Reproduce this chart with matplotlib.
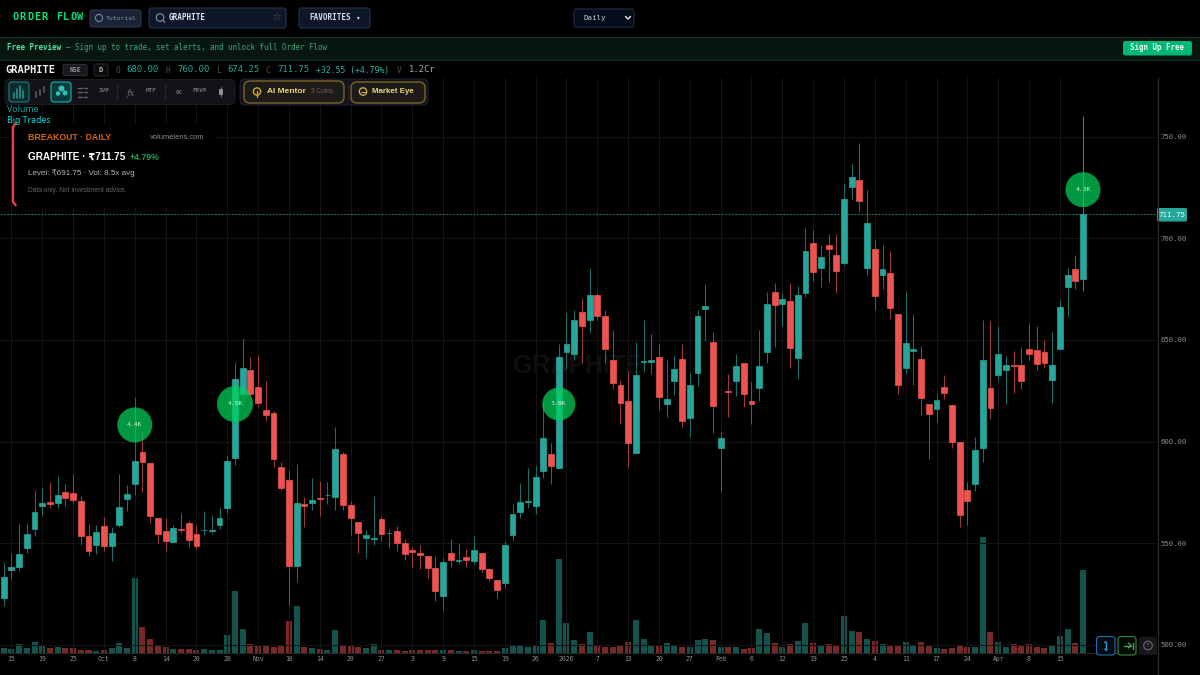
import matplotlib
matplotlib.use('Agg')
import matplotlib.pyplot as plt
from matplotlib.patches import FancyBboxPatch, Circle, Rectangle

# daily candles, oldest first
opens = [523.3, 537.1, 538.5, 547.7, 557.1, 568.5, 570.2, 569.7, 575.1, 574.9, 570.8, 553.5, 549.2, 558.5, 548.9,
         559.2, 572.0, 579.2, 594.9, 589.5, 562.5, 556.1, 550.8, 557.1, 559.8, 554.4, 556.4, 556.1, 559.2, 567.2,
         592.1, 623.5, 635.1, 626.7, 615.7, 614.1, 587.7, 581.2, 538.7, 569.2, 570.0, 572.3, 573.6, 572.8, 594.1,
         568.7, 560.5, 552.5, 552.1, 562.1, 554.9, 556.1, 550.0, 546.5, 545.4, 543.6, 538.0, 524.3, 545.2, 541.3,
         543.1, 541.3, 545.2, 537.2, 531.8, 530.3, 554.2, 565.3, 570.5, 568.3, 585.6, 593.9, 587.2, 644.1, 642.9,
         663.8, 659.9, 672.3, 661.7, 640.0, 627.9, 619.9, 594.2, 639.0, 639.3, 641.8, 618.7, 630.0, 640.8, 611.6,
         633.9, 665.0, 648.8, 597.0, 625.1, 630.0, 638.8, 619.9, 626.3, 644.1, 673.8, 667.8, 668.9, 641.1, 673.0,
         697.9, 685.2, 696.9, 691.9, 688.0, 725.2, 728.8, 685.2, 694.9, 681.8, 682.9, 662.9, 636.1, 644.6, 640.7,
         618.4, 616.1, 626.7, 618.2, 600.0, 576.0, 579.1, 597.1, 626.2, 632.7, 635.2, 637.7, 637.5, 645.5, 645.0,
         643.9, 630.1, 645.7, 676.2, 684.7, 680.0]
highs = [541.0, 545.1, 559.5, 560.0, 576.2, 577.7, 580.0, 583.3, 579.0, 584.1, 573.1, 559.7, 559.0, 563.0, 558.2,
         584.1, 578.7, 622.1, 604.9, 589.5, 562.5, 562.5, 559.0, 564.9, 561.0, 558.5, 565.7, 563.9, 567.7, 593.1,
         639.0, 651.0, 641.8, 642.6, 629.8, 614.9, 590.2, 586.1, 588.9, 572.8, 582.1, 580.8, 580.3, 607.4, 594.8,
         570.7, 560.5, 556.7, 573.3, 563.5, 557.1, 558.5, 552.2, 548.2, 549.3, 543.6, 543.7, 542.6, 551.9, 550.1,
         547.3, 553.7, 545.2, 537.9, 531.8, 551.1, 569.1, 579.7, 587.0, 587.9, 619.2, 599.5, 647.8, 663.0, 664.8,
         670.4, 684.9, 673.2, 664.7, 654.9, 630.3, 634.6, 649.0, 659.6, 652.9, 647.8, 640.0, 642.0, 647.8, 633.6,
         664.8, 677.7, 653.9, 605.0, 633.3, 643.1, 638.8, 629.4, 654.7, 673.7, 678.2, 673.2, 678.2, 676.4, 705.0,
         704.0, 696.7, 702.0, 702.0, 727.2, 736.4, 746.8, 723.8, 699.2, 696.9, 693.5, 662.9, 673.7, 662.7, 646.9,
         618.4, 624.1, 632.9, 618.5, 600.0, 580.1, 602.3, 659.8, 659.5, 657.0, 642.0, 644.8, 646.6, 657.9, 657.0,
         649.9, 653.8, 669.6, 685.4, 691.7, 760.0]
lows = [519.4, 532.1, 537.1, 545.1, 553.8, 564.1, 567.2, 567.4, 568.2, 570.0, 549.4, 543.9, 544.9, 546.2, 541.5,
        558.2, 565.9, 573.9, 575.4, 560.2, 550.3, 546.4, 550.8, 555.1, 548.4, 547.2, 553.9, 555.1, 556.9, 564.8,
        588.5, 621.0, 622.0, 616.9, 610.2, 587.7, 576.2, 519.7, 531.2, 558.0, 566.4, 563.5, 569.4, 566.6, 566.6,
        554.3, 545.4, 542.6, 549.4, 551.3, 547.9, 546.2, 541.8, 538.2, 537.5, 533.0, 521.5, 516.6, 538.2, 539.7,
        538.2, 540.0, 535.9, 531.3, 523.2, 528.1, 551.3, 562.5, 567.3, 564.2, 582.3, 579.4, 587.2, 635.6, 640.0,
        638.8, 653.2, 659.9, 638.8, 625.8, 608.6, 587.7, 594.2, 634.3, 633.3, 615.6, 612.0, 623.0, 607.3, 602.2,
        627.4, 649.3, 604.2, 575.1, 612.0, 622.3, 617.1, 608.6, 620.1, 638.5, 646.4, 656.7, 636.2, 631.0, 671.0,
        679.0, 676.2, 678.5, 673.1, 687.0, 719.4, 713.4, 681.8, 664.6, 674.9, 660.2, 623.5, 633.6, 628.0, 613.1,
        591.6, 609.4, 621.0, 597.0, 558.0, 559.2, 575.7, 589.9, 611.1, 629.7, 618.4, 623.9, 625.8, 640.0, 635.2,
        636.1, 618.7, 645.7, 661.1, 674.9, 674.25]
closes = [533.5, 538.4, 544.8, 554.6, 565.6, 570.0, 569.5, 573.6, 572.3, 571.2, 553.8, 546.1, 555.4, 548.9, 555.3,
          567.7, 574.3, 590.5, 590.2, 563.5, 554.4, 551.3, 557.4, 556.4, 551.5, 548.5, 556.7, 556.4, 562.6, 590.3,
          630.7, 636.1, 623.5, 618.9, 613.0, 591.3, 577.4, 538.7, 570.0, 568.5, 571.5, 571.6, 573.9, 596.6, 568.9,
          562.6, 555.3, 553.9, 552.5, 554.4, 555.3, 550.0, 544.9, 545.5, 544.4, 537.9, 526.6, 541.0, 541.6, 541.8,
          541.8, 546.7, 537.5, 533.1, 526.8, 549.3, 564.3, 570.4, 571.0, 582.8, 601.8, 587.9, 641.6, 648.0, 659.6,
          656.8, 672.3, 661.9, 645.5, 628.6, 619.1, 599.5, 632.8, 639.5, 640.0, 622.0, 620.9, 635.9, 609.9, 627.9,
          661.6, 666.5, 617.4, 601.6, 624.5, 637.2, 623.2, 618.7, 637.2, 667.9, 667.0, 669.9, 645.9, 671.9, 693.5,
          683.2, 690.9, 694.6, 683.8, 719.2, 730.0, 718.3, 707.3, 671.5, 684.7, 665.9, 627.8, 648.7, 645.7, 621.6,
          613.6, 620.3, 623.9, 600.0, 563.8, 570.9, 595.9, 640.2, 616.6, 643.2, 637.7, 637.2, 629.9, 643.0, 638.4,
          638.8, 637.5, 666.4, 681.8, 679.2, 711.75]
# volume in lakh shares
volumes = [7.2, 5.8, 12.5, 6.7, 15.9, 11.1, 6.3, 8.2, 6.7, 6.7, 4.3, 3.4, 2.9, 3.4, 6.3, 14.5, 6.7, 107.5, 37.1, 19.8,
           9.2, 7.7, 5.3, 5.8, 5.8, 3.4, 4.8, 3.4, 3.9, 25.5, 89.7, 34.7, 13.0, 10.1, 11.1, 8.7, 9.2, 45.8, 67.5, 8.7,
           6.7, 4.8, 3.9, 32.8, 9.6, 9.6, 7.7, 7.2, 12.0, 3.4, 3.9, 3.9, 2.4, 3.9, 3.4, 3.9, 4.3, 3.9, 3.9, 2.9,
           2.9, 3.9, 2.4, 1.9, 2.4, 6.7, 11.1, 9.2, 8.7, 9.6, 46.8, 14.0, 135.4, 42.4, 17.8, 12.5, 30.4, 10.6, 8.2, 7.7,
           9.2, 14.9, 47.7, 19.3, 10.6, 11.1, 14.0, 10.1, 8.2, 8.2, 17.8, 19.3, 18.3, 8.7, 8.2, 7.7, 5.8, 7.2, 34.7, 28.4,
           13.5, 8.7, 12.0, 16.9, 42.8, 14.1, 11.0, 12.0, 11.5, 53.7, 31.3, 29.7, 19.8, 16.7, 13.0, 9.9, 11.5, 16.2, 11.0, 15.1,
           10.4, 6.8, 4.7, 6.3, 11.0, 8.3, 8.3, 166.9, 30.2, 15.6, 8.9, 12.5, 9.9, 13.0, 8.3, 6.8, 11.0, 23.5, 34.4, 14.6,
           120.0]

tick_labels = ['15', '19', '25', 'Oct', '8', '14', '20', '28', 'Nov', '10', '14', '20', '27', '3', '9', '15', '19',
               '26', '2026', '7', '13', '20', '27', 'Feb', '6', '12', '19', '25', '4', '11', '17', '24', 'Apr', '8', '15']
price_ticks = [500, 550, 600, 650, 700, 750]

# big trade bubbles
bubble_idx = [17, 30, 72, 140]
bubble_price = [608.2, 618.5, 618.5, 723.9]
bubble_text = ['4.4K', '4.5K', '3.8K', '4.3K']
bubble_px = [35, 36, 33, 35]

UP = '#26a69a'
DOWN = '#ef5350'
MONO = 'DejaVu Sans Mono'
SANS = ['Liberation Sans', 'DejaVu Sans']

fig = plt.figure(figsize=(12, 6.75), dpi=100, facecolor='black')


def px_axes(left, top, right, bottom):
    return fig.add_axes([left / 1200, 1 - bottom / 675, (right - left) / 1200, (bottom - top) / 675])


# price and volume share the same box
ax_vol = px_axes(0, 78, 1157, 652.7)
ax = px_axes(0, 78, 1157, 652.7)
ax_vol.set_zorder(1)
ax.set_zorder(2)
ax.patch.set_visible(False)
ax_vol.set_facecolor('black')

idx = list(range(len(closes)))
colors = [UP if c >= o else DOWN for o, c in zip(opens, closes)]
wick_colors = ['#17716a' if c >= o else '#a03a38' for o, c in zip(opens, closes)]
wick_colors[-1] = '#1f8f85'

ax_vol.bar(idx, volumes, width=0.78, color=colors, alpha=0.5, linewidth=0)
ax_vol.set_xlim(-0.48, 149.6)
ax_vol.set_ylim(0, 831.6)
ax_vol.axis('off')

ax.vlines(idx, lows, highs, colors=wick_colors, linewidth=0.75, zorder=3)
ax.bar(idx, [abs(c - o) for o, c in zip(opens, closes)], bottom=[min(o, c) for o, c in zip(opens, closes)],
       width=0.76, color=colors, edgecolor=colors, linewidth=0.5, zorder=4)

ax.set_xlim(-0.48, 149.6)
ax.set_ylim(496.2, 778.8)
ax.set_xticks(idx[1::4])
ax.set_xticklabels(tick_labels, family=MONO, fontsize=4.7, color='#8f8f8f')
ax.set_yticks(price_ticks)
ax.set_yticklabels([f'{p:.2f}' for p in price_ticks], family=MONO, fontsize=5.2, color='#8f8f8f')
ax.yaxis.tick_right()
ax.tick_params(axis='both', length=0)
ax.tick_params(axis='x', pad=2.2)
ax.tick_params(axis='y', pad=2.2)
ax.grid(True, color='#141416', linewidth=0.75)
ax.set_axisbelow(True)
for name, spine in ax.spines.items():
    spine.set_visible(name == 'bottom')
    spine.set_color('#2a2a2a')
    spine.set_linewidth(0.7)

ax.axhline(closes[-1], color=UP, linewidth=0.7, linestyle=(0, (2, 1.5)), alpha=0.75, zorder=2)

ax.scatter(bubble_idx, bubble_price, s=[(d * 0.72) ** 2 for d in bubble_px], color='#00d25b', alpha=0.72,
           linewidths=0, zorder=6)
for i, p, t in zip(bubble_idx, bubble_price, bubble_text):
    ax.text(i, p, t, ha='center', va='center', family=MONO, fontsize=4.6, color='#d8f5e2', zorder=7)

# screen furniture is placed in pixel space on top of the chart
ui = fig.add_axes([0, 0, 1, 1], zorder=3)
ui.set_xlim(0, 1200)
ui.set_ylim(675, 0)
ui.axis('off')

ax.text(513, 366, 'GRAPHITE', transform=ui.transData, family=SANS, weight='bold', fontsize=18, color='#0f0f10',
        ha='left', va='center', zorder=1)


def box(x0, y0, x1, y1, fc, ec='none', r=2.5, lw=0.8, z=2):
    ui.add_patch(FancyBboxPatch((x0 + r, y0 + r), x1 - x0 - 2 * r, y1 - y0 - 2 * r,
                                boxstyle=f'round,pad={r},rounding_size={r}', fc=fc, ec=ec, lw=lw, zorder=z))


def label(x, y, s, size, color, family=MONO, weight='normal', ha='left', **kw):
    ui.text(x, y, s, fontsize=size, color=color, family=family, weight=weight, ha=ha, va='center', zorder=5, **kw)


def line(xs, ys, color, lw=0.8, z=4):
    ui.plot(xs, ys, color=color, lw=lw, zorder=z, solid_capstyle='round')


# top bar, the logo has wide letter spacing
for n, ch in enumerate('ORDER FLOW'):
    label(12.5 + n * 7.2, 17.5, ch, 7.4, '#00e676', weight='bold')
box(90, 10, 141, 27, '#1a2436', '#2a3852')
ui.add_patch(Circle((99, 18), 3.6, fc='none', ec='#8595aa', lw=0.7, zorder=4))
label(106, 18, 'Tutorial', 4.6, '#8292a6')
box(149, 8, 286, 28, '#0e1728', '#25324a')
ui.add_patch(Circle((160, 17.5), 3.8, fc='none', ec='#8a97a8', lw=0.8, zorder=4))
line([163, 165], [20.5, 22.5], '#8a97a8')
label(169, 18, 'GRAPHITE', 5.5, '#e0e6ee', weight='bold')
label(276, 17, '☆', 8, '#3f4c60', family='DejaVu Sans', ha='center')
box(299, 8, 370, 28, '#0e1728', '#25324a')
label(309, 18, 'FAVORITES', 5.5, '#d5dce6', weight='bold')
label(358, 18, '▾', 4, '#d5dce6', family='DejaVu Sans', ha='center')
box(574, 9, 634, 27, '#070c1c', '#222d42')
label(584, 18, 'Daily', 5.4, '#c9ced6')
line([625.5, 628, 630.5], [16.5, 19, 16.5], '#d5dce6', lw=1.1)

# preview banner
ui.add_patch(Rectangle((0, 36.5), 1200, 23, fc='#07170f', ec='none', zorder=1))
line([0, 1200], [36.5, 36.5], '#1e2c3c', z=2)
line([0, 1200], [59.5, 59.5], '#10301f', z=2)
label(7, 48, 'Free Preview', 5.45, '#53e6a6', weight='bold')
label(66, 48, '— Sign up to trade, set alerts, and unlock full Order Flow', 5.45, '#3aa57c')
box(1123, 41, 1192, 55.5, '#00b874')
label(1157.5, 48, 'Sign Up Free', 5.45, '#eafff6', weight='bold', ha='center')

# symbol row
label(5, 70, 'GRAPHITE', 7.5, '#f0f0f0', weight='bold')
box(63, 64.5, 87, 75.5, '#17181c', '#2a2b30', r=1.5)
label(75, 70, 'NSE', 4.7, '#8e9198', weight='bold', ha='center')
box(94, 64, 108, 76, '#0b0b0d', '#25262a', r=2)
label(101, 70, 'D', 5, '#b8bbc2', weight='bold', ha='center')
for x, key, vx, val in [(115, 'O', 126, '680.00'), (165, 'H', 177, '760.00'),
                        (216, 'L', 227, '674.25'), (266, 'C', 277, '711.75')]:
    label(x, 70.5, key, 5.6, '#4c4f55')
    label(vx, 70, val, 6.4, '#26a69a')
label(316, 70, '+32.55 (+4.79%)', 5.85, '#26b6a6')
label(397, 70.5, 'V', 5.6, '#4c4f55')
label(409, 70, '1.2Cr', 6.4, '#a7a9ad')

# toolbar left
box(5, 79.5, 235, 104.5, '#121316', '#1b1c20', r=5)
box(9, 82, 29, 102, '#0b2b2c', '#17807f', r=3)
for bx, top in zip([14, 17, 20, 23], [93, 89, 86, 91]):
    line([bx, bx], [98, top], '#2a9d93', lw=1.1)
for bx, y0, y1 in [(36, 92, 97), (40, 90, 95), (44, 87, 92)]:
    line([bx, bx], [y0, y1], '#5a5d62', lw=1.2)
box(51, 82, 71, 102, '#0b3a3c', '#18b4b4', r=3)
for cx, cy, r in [(61.5, 88.5, 3), (58, 93.5, 2.3), (65, 93, 2.5)]:
    ui.add_patch(Circle((cx, cy), r, fc='#2fc0b2', ec='none', zorder=4))
for y in [87.5, 92, 96.5]:
    line([78, 81.5], [y, y], '#5f6267', lw=1)
    line([83.5, 87], [y, y], '#5f6267', lw=1)
label(104, 91, 'SVP', 4.3, '#6d7076', weight='bold', ha='center')
line([117, 117], [84, 100], '#26272c')
label(130.5, 93, 'fx', 6.5, '#6d7076', family='DejaVu Serif', style='italic', ha='center')
label(151, 91, 'MTF', 4.3, '#6d7076', weight='bold', ha='center')
line([165, 165], [84, 100], '#26272c')
label(179, 92.5, 'OC', 4.3, '#6d7076', weight='bold', ha='center')
label(200, 91, 'FRVP', 4.3, '#6d7076', weight='bold', ha='center')
line([221, 221], [87, 97], '#6d7076', lw=0.7)
box(219, 89, 223, 95, '#8a8d92', r=0.8, z=4)

# toolbar right
box(240, 79, 428, 105, '#14131d', '#1f1e2c', r=5)
box(244, 81, 344, 103, '#1c1b18', '#7d6526', r=6, lw=1)
ui.add_patch(Circle((257, 91.5), 3.6, fc='none', ec='#d9a62e', lw=1, zorder=4))
line([257, 257], [91, 97], '#d9a62e', lw=1)
label(267, 91.5, 'AI Mentor', 6.0, '#f1d67c', family=SANS, weight='bold')
label(311, 91.5, '3 Coins', 4.7, '#6f6850', family=SANS)
line([348, 348], [84, 100], '#24232e')
box(351, 82, 425, 103, '#1c1b18', '#7d6526', r=6, lw=1)
ui.add_patch(Circle((363, 91.5), 3.7, fc='none', ec='#d9b648', lw=0.9, zorder=4))
line([361, 365], [91.5, 91.5], '#d9b648', lw=0.7)
label(372, 91.5, 'Market Eye', 5.7, '#f1d67c', family=SANS, weight='bold')

# indicator legend
label(7, 109, 'Volume', 6.3, '#0f9c9c', family=['Noto Sans', 'DejaVu Sans'])
label(7, 120.5, 'Big Trades', 6.3, '#00e0e0', family=['Noto Sans', 'DejaVu Sans'], weight='bold')

# breakout card
ui.add_patch(Rectangle((12, 123.5), 203, 83, fc='black', ec='none', zorder=3))
ui.plot([15.5, 13, 13, 15.5], [123.5, 127, 202, 205], color='#e5413f', lw=1.7, zorder=4)
label(28, 137, 'BREAKOUT · DAILY', 6.3, '#d9660f', family=SANS, weight='bold')
label(150, 137.5, 'volumelens.com', 5.4, '#8a8a8a', family=SANS)
label(28, 157, 'GRAPHITE · ₹711.75', 7.2, '#ffffff', family=SANS, weight='bold')
label(130, 157.5, '+4.79%', 6.2, '#1fa550', family=SANS, weight='bold')
label(28, 173, 'Level: ₹691.75 · Vol: 8.5x avg', 5.8, '#b5b5b5', family=SANS)
label(28, 190.5, 'Data only. Not investment advice.', 4.8, '#666666', family=SANS)

# price axis edge and last price tag
line([1157.5, 1157.5], [78, 675], '#2e2e2e', lw=0.8)
box(1157, 208, 1187, 221.5, '#26a69a', r=1.5)
label(1172, 214.8, '711.75', 5.4, '#eafffb', ha='center')

# corner buttons
box(1096.5, 636.5, 1115, 655, '#070b10', '#1f6fb5', r=3)
line([1105.5, 1105.5], [642, 650], '#2f9be8', lw=1)
label(1105.5, 641.8, '▴', 3.5, '#2f9be8', family='DejaVu Sans', ha='center')
label(1105.5, 650, '▾', 3.5, '#2f9be8', family='DejaVu Sans', ha='center')
box(1118, 636.5, 1136, 655, '#070b07', '#2f8a3a', r=3)
line([1124, 1131], [645.5, 645.5], '#46a84f', lw=1)
line([1128.5, 1131, 1128.5], [643, 645.5, 648], '#46a84f', lw=1)
line([1132.5, 1132.5], [642.5, 648.5], '#46a84f', lw=1)
box(1139, 636.5, 1157, 655, '#17181a', r=3)
ui.add_patch(Circle((1148, 645.5), 4.3, fc='none', ec='#6b6d70', lw=0.8, zorder=4))
label(1148, 645.5, '?', 4.6, '#7b7d80', family=SANS, ha='center')

fig.savefig('out.png', dpi=100, facecolor='black')
